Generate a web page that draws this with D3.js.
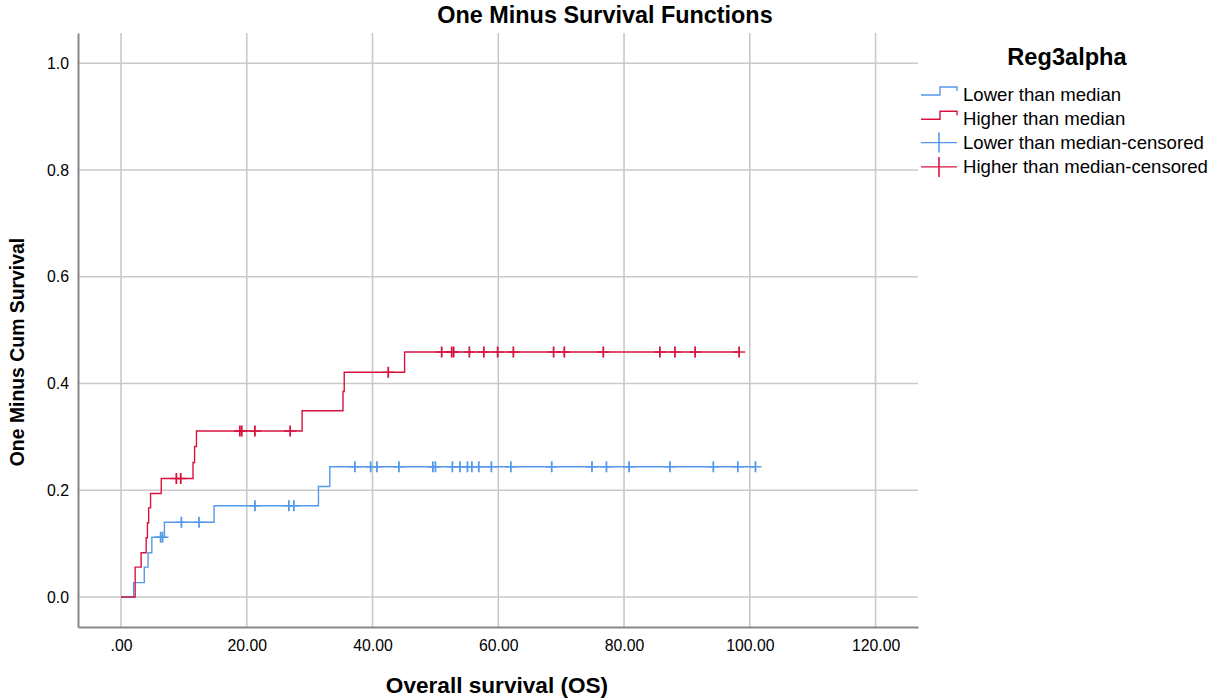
<!DOCTYPE html>
<html>
<head>
<meta charset="utf-8">
<script src="https://cdn.jsdelivr.net/npm/d3@7"></script>
<style>
  body { margin: 0; background: #fff; }
  text { font-family: "Liberation Sans", Arial, sans-serif; fill: #000; }
</style>
</head>
<body>
<div id="chart"></div>
<script>
// Data
// step times (months) and one-minus-survival values, per group
var lowerTimes = [0, 2.0, 3.7, 4.3, 4.9, 6.9, 14.8, 31.4, 33.2];
var lowerValues = [0, 0.027, 0.056, 0.083, 0.112, 0.140, 0.171, 0.207, 0.244];
var lowerCensored = [6.3, 6.6, 9.6, 12.4, 21.3, 26.7, 27.5, 37.2, 39.7, 40.7, 44.2, 49.6, 50.0,
  52.7, 53.9, 55.1, 55.8, 56.9, 58.9, 62.0, 68.5, 74.9, 77.2, 80.8, 87.3, 94.2, 98.1, 100.9];

var higherTimes = [0, 2.25, 3.2, 4.0, 4.2, 4.4, 4.7, 6.4, 11.45, 11.7, 12.0, 28.8, 35.3, 35.5, 45.1];
var higherValues = [0, 0.056, 0.083, 0.111, 0.139, 0.167, 0.194, 0.222, 0.252, 0.282, 0.311, 0.349, 0.385, 0.421, 0.459];
var higherCensored = [8.8, 9.5, 18.9, 19.2, 21.3, 26.9, 42.5, 51.0, 52.6, 52.9, 55.4, 57.7, 59.9,
  62.4, 68.8, 70.5, 76.7, 85.7, 88.1, 91.3, 98.3];

var xTicks = [0, 20, 40, 60, 80, 100, 120];
var yTicks = [0, 0.2, 0.4, 0.6, 0.8, 1.0];

var legendLabels = ["Lower than median", "Higher than median",
  "Lower than median-censored", "Higher than median-censored"];

var blue = "#5499ea";
var red = "#d8133f";

var svgW = 1212, svgH = 700;
var margin = {top: 33, left: 78};
var width = 840, height = 594;

var svg = d3.select("#chart").append("svg")
  .attr("width", svgW)
  .attr("height", svgH);

var g = svg.append("g")
  .attr("transform", "translate(" + margin.left + "," + margin.top + ")");

// scales
var x = d3.scaleLinear().domain([-6.84, 126.75]).range([0, width]);
var y = d3.scaleLinear().domain([-0.0562, 1.0567]).range([height, 0]);

// grid
g.append("g").selectAll("line").data(xTicks).enter().append("line")
  .attr("x1", d => x(d)).attr("x2", d => x(d))
  .attr("y1", 0).attr("y2", height)
  .attr("stroke", "#c9c9c9").attr("stroke-width", 1.6);

g.append("g").selectAll("line").data(yTicks).enter().append("line")
  .attr("x1", 0).attr("x2", width)
  .attr("y1", d => y(d)).attr("y2", d => y(d))
  .attr("stroke", "#c9c9c9").attr("stroke-width", 1.6);

// axes
var xAxisCall = d3.axisBottom(x).tickValues(xTicks).tickSize(0).tickPadding(13)
  .tickFormat(d => d === 0 ? ".00" : d3.format(".2f")(d));
var yAxisCall = d3.axisLeft(y).tickValues(yTicks).tickSize(0).tickPadding(9)
  .tickFormat(d3.format(".1f"));

var xAxis = g.append("g")
  .attr("transform", "translate(0," + height + ")")
  .call(xAxisCall);
var yAxis = g.append("g").call(yAxisCall);

[xAxis, yAxis].forEach(a => {
  a.select(".domain").attr("stroke", "#888").attr("stroke-width", 2);
  a.selectAll("text")
    .attr("font-family", "Liberation Sans, Arial, sans-serif")
    .attr("font-size", 15.8)
    .attr("fill", "#222");
});

// step lines
var line = d3.line()
  .x(d => x(d[0]))
  .y(d => y(d[1]))
  .curve(d3.curveStepAfter);

function stepValue(times, values, t) {
  var i = d3.bisectRight(times, t) - 1;
  return values[Math.max(0, i)];
}

function drawGroup(times, values, censored, color) {
  var pts = times.map((t, i) => [t, values[i]]);
  var last = d3.max(censored);
  pts.push([last, values[values.length - 1]]);
  g.append("path")
    .attr("d", line(pts))
    .attr("fill", "none")
    .attr("stroke", color)
    .attr("stroke-width", 1.4);

  var marks = g.append("g").selectAll("g").data(censored).enter().append("g")
    .attr("transform", d => "translate(" + x(d) + "," + y(stepValue(times, values, d)) + ")");
  marks.append("line")
    .attr("x1", -6).attr("x2", 6).attr("y1", 0).attr("y2", 0)
    .attr("stroke", color).attr("stroke-width", 1.4);
  marks.append("line")
    .attr("x1", 0).attr("x2", 0).attr("y1", -5.5).attr("y2", 5.5)
    .attr("stroke", color).attr("stroke-width", 1.8);
}

drawGroup(lowerTimes, lowerValues, lowerCensored, blue);
drawGroup(higherTimes, higherValues, higherCensored, red);

// title
svg.append("text")
  .attr("x", 605).attr("y", 23)
  .attr("text-anchor", "middle")
  .attr("font-weight", "bold")
  .attr("font-size", 23.4)
  .text("One Minus Survival Functions");

// axis labels
svg.append("text")
  .attr("x", margin.left + width / 2 - 1)
  .attr("y", 693)
  .attr("text-anchor", "middle")
  .attr("font-weight", "bold")
  .attr("font-size", 22.6)
  .text("Overall survival (OS)");

svg.append("text")
  .attr("transform", "translate(24,352) rotate(-90)")
  .attr("text-anchor", "middle")
  .attr("font-weight", "bold")
  .attr("font-size", 19.4)
  .text("One Minus Cum Survival");

// legend
var legend = svg.append("g");
legend.append("text")
  .attr("x", 1067).attr("y", 65)
  .attr("text-anchor", "middle")
  .attr("font-weight", "bold")
  .attr("font-size", 23.6)
  .text("Reg3alpha");

var colors = [blue, red, blue, red];
var rows = legend.selectAll("g.row").data(legendLabels).enter().append("g")
  .attr("class", "row")
  .attr("transform", (d, i) => "translate(921," + (94 + i * 24.3) + ")");

rows.append("text")
  .attr("x", 42).attr("y", 6.5)
  .attr("font-size", 18.6)
  .attr("fill", "#222")
  .text(d => d);

rows.filter((d, i) => i < 2).append("path")
  .attr("d", "M0,1H19V-7H36V-3")
  .attr("fill", "none")
  .attr("stroke", (d, i) => colors[i])
  .attr("stroke-width", 1.4);

rows.filter((d, i) => i >= 2).each(function(d, i) {
  var r = d3.select(this);
  r.append("line").attr("x1", 0).attr("x2", 36).attr("y1", 0).attr("y2", 0)
    .attr("stroke", colors[i + 2]).attr("stroke-width", 1.4);
  r.append("line").attr("x1", 18).attr("x2", 18).attr("y1", -10).attr("y2", 10)
    .attr("stroke", colors[i + 2]).attr("stroke-width", 1.6);
});
</script>
</body>
</html>
